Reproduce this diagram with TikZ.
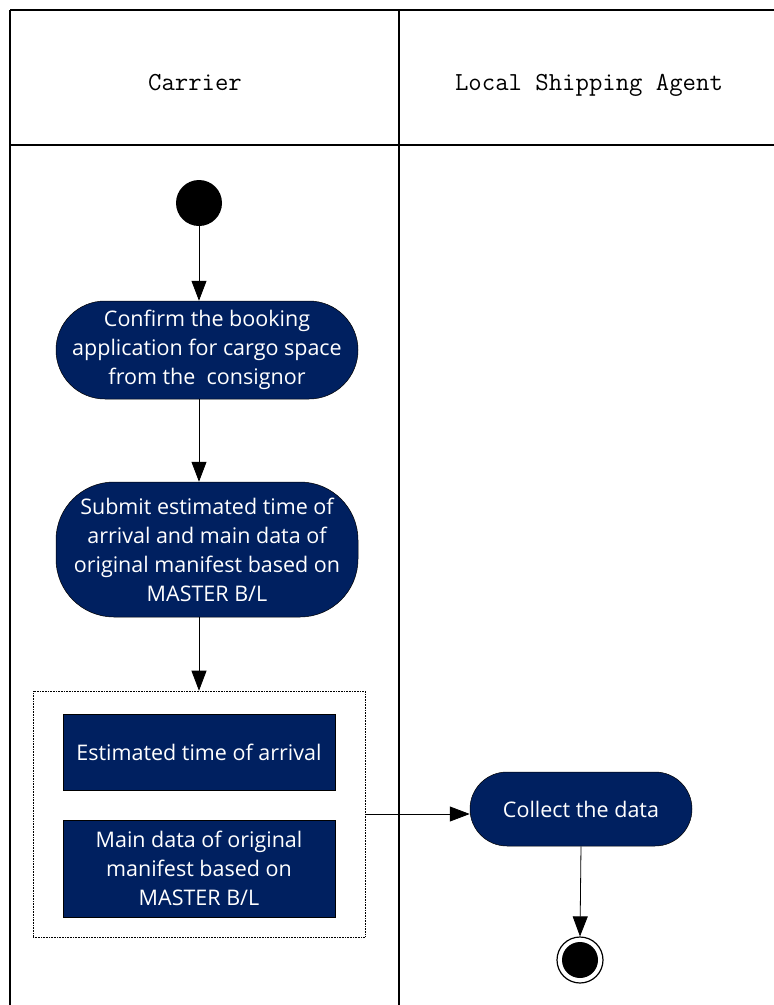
\documentclass[tikz,border=0pt]{standalone}
\usepackage{fontspec}
\setmainfont{Open Sans}
\usetikzlibrary{arrows.meta}
\definecolor{navy}{RGB}{0,32,96}

\begin{document}
\begin{tikzpicture}[x=1pt,y=-1pt,font=\fontsize{21.5}{29}\selectfont]
  \tikzset{
    lane/.style={draw=black,line width=1.6pt},
    lanetitle/.style={font=\ttfamily\fontsize{26}{30}\selectfont,anchor=base},
    action/.style={draw=black,line width=0.5pt,fill=navy,text=white,
      rounded corners=49pt,minimum width=302pt,minimum height=98pt,
      align=center,inner sep=0pt},
    object/.style={draw=black,line width=0.5pt,fill=navy,text=white,
      minimum width=272pt,align=center,inner sep=0pt},
    group/.style={draw=black,line width=0.6pt,densely dotted,
      minimum width=332pt,minimum height=246pt},
    flow/.style={-{Triangle[length=20pt,width=15pt]},line width=0.8pt,draw=black}
  }
  \useasboundingbox (0,0) rectangle (774,1005);

  \draw[lane] (10,10) -- (774,10);
  \draw[lane] (10,145) -- (774,145);
  \draw[lane] (10,10) -- (10,1005);
  \draw[lane] (399,10) -- (399,1005);
  \node[lanetitle] (carrier) at (195,90) {Carrier};
  \node[lanetitle] (agent) at (589,90) {Local Shipping Agent};

  \node[circle,fill=black,minimum size=46pt,inner sep=0pt] (start) at (199,203) {};
  \node[action] (confirm) at (207,350)
    {Confirm the booking\\application for cargo space\\from the\ \ consignor};
  \node[action,minimum height=135pt,rounded corners=58pt] (submit) at (207,549.5)
    {Submit estimated time of\\arrival and main data of\\original manifest based on\\MASTER B/L};

  \node[group] (group) at (199,814) {};
  \node[object,minimum height=76pt] (eta) at (199,752) {Estimated time of arrival};
  \node[object,minimum height=97pt] (manifest) at (199,868.5)
    {Main data of original\\manifest based on\\MASTER B/L};

  \node[action,minimum width=222pt,minimum height=74pt,rounded corners=37pt]
    (collect) at (581,809) {Collect the data};
  \node[circle,draw=black,line width=1.2pt,fill=white,minimum size=46pt,inner sep=0pt]
    (stop) at (580,960) {};
  \node[circle,fill=black,minimum size=36pt,inner sep=0pt] at (stop) {};

  \draw[flow] (start) -- (start |- confirm.north);
  \draw[flow] (start |- confirm.south) -- (start |- submit.north);
  \draw[flow] (start |- submit.south) -- (group.north);
  \draw[flow] (group.east) -- (group.east -| collect.west);
  \draw[flow] (collect.south) -- (stop.north);
\end{tikzpicture}
\end{document}
